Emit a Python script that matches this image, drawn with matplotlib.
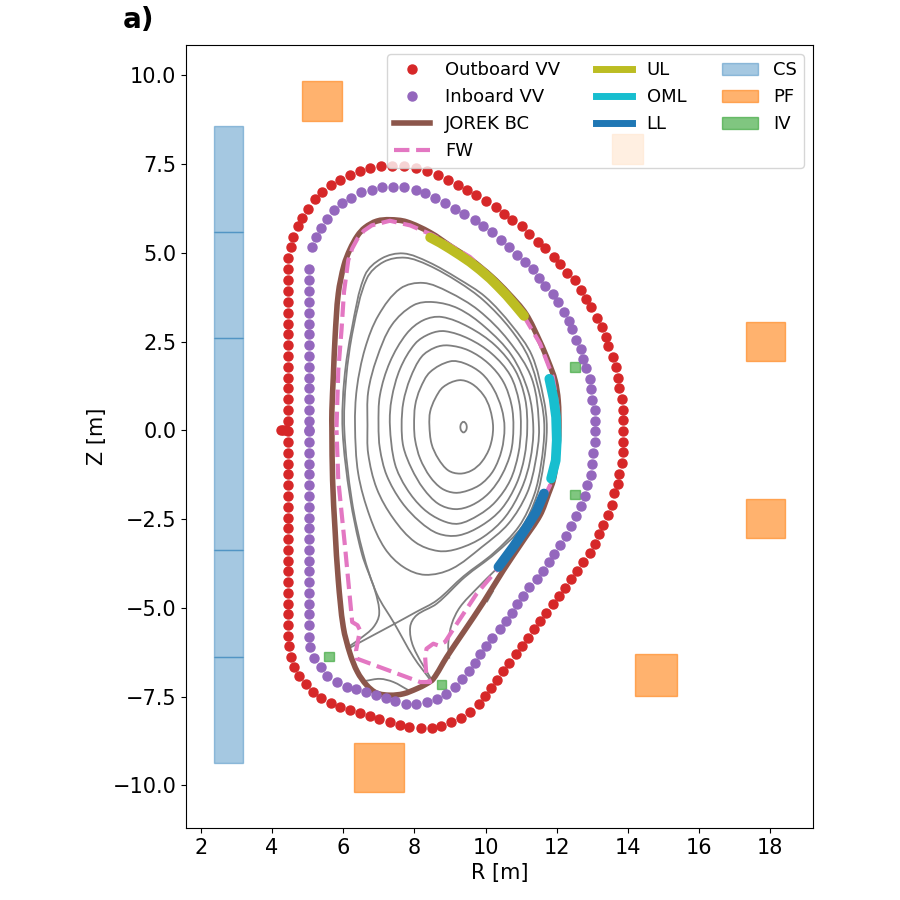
import matplotlib
matplotlib.use('Agg')
import matplotlib.pyplot as plt
import numpy as np
from matplotlib.patches import PathPatch, Rectangle
from matplotlib.path import Path

plt.rcParams['font.size'] = 15

# vessel points [m]
outboard_r = [4.45, 4.45, 4.45, 4.45, 4.45, 4.45, 4.45, 4.45, 4.45, 4.45, 4.45, 4.45, 4.45, 4.45, 4.45, 4.45,
              4.52, 4.60, 4.72, 4.85, 5.02, 5.21, 5.41, 5.66, 5.92, 6.20, 6.48, 6.76, 7.07, 7.38, 7.72, 8.03,
              8.36, 8.67, 8.95, 9.21, 9.49, 9.74, 10.02, 10.28, 10.53, 10.75, 11.01, 11.23, 11.46, 11.68, 11.91,
              12.10, 12.30, 12.50, 12.67, 12.81, 12.97, 13.12, 13.26, 13.37, 13.45, 13.57, 13.65, 13.71, 13.76,
              13.82, 13.85, 13.87, 13.87, 13.87, 13.85, 13.82, 13.76, 13.71, 13.62, 13.54, 13.45, 13.31, 13.20,
              13.06, 12.92, 12.75, 12.58, 12.41, 12.24, 12.05, 11.88, 11.71, 11.54, 11.37, 11.20, 11.01, 10.84,
              10.67, 10.50, 10.33, 10.16, 9.99, 9.80, 9.57, 9.32, 9.04, 8.76, 8.48, 8.17, 7.86, 7.58, 7.30, 7.01,
              6.76, 6.48, 6.20, 5.92, 5.66, 5.38, 5.16, 4.96, 4.76, 4.62, 4.54, 4.48, 4.45, 4.45, 4.45, 4.45, 4.45,
              4.45, 4.45, 4.45, 4.45, 4.45, 4.45, 4.45, 4.45, 4.45, 4.45, 4.45, 4.45, 4.45, 4.45, 4.45, 4.25, 4.30,
              4.38]
outboard_z = [0.26, 0.58, 0.89, 1.20, 1.47, 1.78, 2.09, 2.41, 2.72, 3.00, 3.30, 3.61, 3.92, 4.23, 4.53, 4.84,
              5.15, 5.43, 5.74, 5.99, 6.24, 6.50, 6.72, 6.90, 7.06, 7.20, 7.31, 7.40, 7.45, 7.45, 7.45, 7.40,
              7.31, 7.20, 7.06, 6.92, 6.78, 6.62, 6.47, 6.30, 6.10, 5.93, 5.74, 5.54, 5.31, 5.12, 4.89,
              4.67, 4.44, 4.22, 3.96, 3.71, 3.46, 3.17, 2.92, 2.64, 2.36, 2.07, 1.77, 1.48, 1.20,
              0.89, 0.58, 0.30, -0.03, -0.32, -0.60, -0.91, -1.22, -1.50, -1.78, -2.09, -2.38, -2.66, -2.91,
              -3.19, -3.45, -3.70, -3.95, -4.18, -4.43, -4.66, -4.88, -5.14, -5.36, -5.59, -5.84, -6.07, -6.29,
              -6.54, -6.77, -7.02, -7.25, -7.47, -7.70, -7.92, -8.09, -8.21, -8.32, -8.38, -8.38, -8.35, -8.29, -8.21, -8.12,
              -8.04, -7.95, -7.87, -7.78, -7.67, -7.53, -7.36, -7.14, -6.91, -6.66, -6.38, -6.07, -5.78, -5.47, -5.16, -4.88, -4.57,
              -4.26, -3.95, -3.67, -3.36, -3.05, -2.74, -2.46, -2.15, -1.84, -1.53, -1.22, -0.94, -0.63, -0.32, -0.03, 0.0, 0.0,
              0.0]

inboard_r = [5.05, 5.05, 5.05, 5.05, 5.05, 5.05, 5.05, 5.05, 5.05, 5.05, 5.05, 5.05, 5.05, 5.05, 5.05, 5.05,
             5.13, 5.24, 5.36, 5.55, 5.75, 5.97, 6.23, 6.51, 6.82, 7.10, 7.41, 7.72, 8.03, 8.31, 8.59, 8.87,
             9.15, 9.40, 9.69, 9.94, 10.19, 10.42, 10.67, 10.89, 11.12, 11.32, 11.51, 11.68, 11.88, 12.02, 12.19,
             12.33, 12.44, 12.55, 12.67, 12.75, 12.83, 12.92, 12.97, 13.00, 13.06, 13.06, 13.06,
             13.06, 13.03, 13.00, 12.95, 12.86, 12.78, 12.67, 12.55, 12.41, 12.27, 12.10, 11.93, 11.77, 11.60,
             11.43, 11.23, 11.06, 10.89, 10.73, 10.56, 10.39, 10.19, 10.02, 9.85, 9.69, 9.52, 9.35, 9.15, 8.90,
             8.64, 8.36, 8.05, 7.77, 7.46, 7.21, 6.93, 6.65, 6.37, 6.11, 5.81, 5.55, 5.36, 5.19, 5.07, 5.05,
             5.05, 5.05, 5.05, 5.05, 5.05, 5.05, 5.05, 5.05, 5.05, 5.05, 5.05, 5.05, 5.05, 5.05, 5.05, 5.05, 5.05, 5.05, 5.05]
inboard_z = [0.02, 0.27, 0.58, 0.89, 1.20, 1.48, 1.78, 2.09, 2.41, 2.72, 3.00, 3.31, 3.62, 3.93, 4.22, 4.53,
             5.15, 5.43, 5.71, 5.96, 6.19, 6.39, 6.55, 6.70, 6.78, 6.84, 6.86, 6.84, 6.78, 6.67, 6.53, 6.41,
             6.24, 6.10, 5.93, 5.74, 5.57, 5.37, 5.17, 4.95, 4.75, 4.53, 4.30, 4.07, 3.85, 3.60, 3.34,
             3.09, 2.84, 2.55, 2.30, 2.02, 1.74, 1.45, 1.15, 0.86, 0.58, 0.27, -0.01,
             -0.32, -0.63, -0.94, -1.25, -1.53, -1.84, -2.12, -2.40, -2.69, -2.97, -3.22, -3.47, -3.70, -3.95,
             -4.18, -4.40, -4.66, -4.88, -5.14, -5.36, -5.59, -5.84, -6.07, -6.29, -6.54, -6.77, -7.00, -7.22, -7.42,
             -7.56, -7.64, -7.70, -7.70, -7.62, -7.53, -7.45, -7.36, -7.28, -7.22, -7.08, -6.91, -6.66, -6.40, -6.09, -5.81,
             -5.47, -5.16, -4.88, -4.57, -4.26, -3.95, -3.67, -3.36, -3.05, -2.74, -2.46, -2.15, -1.84, -1.53, -1.22, -0.94, -0.63, -0.32, -0.03]

# JOREK boundary
jorek_r = [5.68, 5.68, 5.72, 5.77, 5.86, 6.02, 6.19, 6.40, 6.61, 6.94, 7.31, 7.78, 8.44, 9.04, 9.60, 10.17, 10.64, 11.13,
           11.53, 11.77, 11.95, 12.04, 12.06, 12.04, 11.98, 11.90, 11.77, 11.53, 11.06, 10.50, 9.94, 9.38, 8.91, 8.53,
           8.34, 8.06, 7.69, 7.31, 6.94, 6.66, 6.40, 6.19, 6.00, 5.86, 5.77, 5.70]
jorek_z = [0.02, 0.56, 1.50, 2.63, 3.85, 4.65, 5.10, 5.48, 5.71, 5.89, 5.93, 5.87, 5.57, 5.17, 4.80, 4.33, 3.86, 3.28,
           2.49, 1.92, 1.41, 0.84, 0.09, -0.40, -0.94, -1.41, -1.78, -2.39, -3.10, -3.94, -4.84, -5.68, -6.38, -7.00,
           -7.14, -7.28, -7.42, -7.46, -7.40, -7.18, -6.81, -6.29, -5.54, -4.23, -2.82, -1.41]

# first wall
fw_r = [5.81, 5.86, 5.95, 6.02, 6.14, 6.25, 6.40, 6.58, 6.80, 7.31, 7.88, 8.53, 9.56, 10.31, 11.06, 11.53, 11.89, 12.02, 12.05,
        11.91, 11.81, 11.25, 10.31, 9.75, 9.19, 8.86, 8.67, 8.53, 8.34, 8.30, 8.33, 8.44, 8.16, 6.38, 6.36, 6.47,
        6.40, 6.25, 6.05, 5.86, 5.81]
fw_z = [0.09, 1.69, 2.82, 3.90, 4.79, 5.12, 5.40, 5.62, 5.77, 5.90, 5.77, 5.49, 4.88, 4.18, 3.24, 2.44, 1.50, 0.66, -0.28,
        -1.13, -1.55, -2.72, -3.94, -4.60, -5.45, -5.96, -6.06, -6.01, -6.15, -6.38, -6.85, -7.09, -7.09, -6.43, -6.20, -5.63,
        -5.49, -5.40, -3.29, -1.41, 0.0]

# limiters
ul_r = [8.44, 8.72, 9.00, 9.28, 9.56, 9.84, 10.13, 10.36, 10.59, 10.83, 11.08]
ul_z = [5.43, 5.28, 5.11, 4.93, 4.74, 4.52, 4.27, 4.04, 3.80, 3.52, 3.22]
oml_r = [11.79, 11.91, 11.98, 12.00, 11.97, 11.84]
oml_z = [1.45, 0.89, 0.37, -0.28, -0.85, -1.36]
ll_r = [11.64, 11.42, 11.12, 10.78, 10.36]
ll_z = [-1.78, -2.30, -2.78, -3.28, -3.85]

# coils: r_min, r_max, z_min, z_max
cs_r = [2.37, 3.18]
cs_z = [8.56, 5.58, 2.59, -3.38, -6.39, -9.38]
pf_r0 = [4.84, 13.56, 17.33, 17.33, 14.20, 6.30]
pf_r1 = [5.97, 14.43, 18.42, 18.42, 15.39, 7.71]
pf_z0 = [8.70, 7.49, 1.94, -3.04, -7.49, -10.20]
pf_z1 = [9.83, 8.34, 3.04, -1.94, -6.31, -8.82]
iv_r0 = [12.37, 12.37, 5.47, 8.63]
iv_r1 = [12.66, 12.66, 5.73, 8.88]
iv_z0 = [1.64, -1.94, -6.50, -7.29]
iv_z1 = [1.91, -1.69, -6.23, -7.02]

# closed flux surfaces
flux_closed = [
    ([9.38, 9.45, 9.47, 9.45, 9.38, 9.31, 9.29, 9.31],
     [0.24, 0.18, 0.09, 0.00, -0.06, 0.00, 0.09, 0.18]),
    ([8.42, 8.44, 8.58, 8.81, 9.25, 9.61, 9.94, 10.12, 10.21, 10.12, 9.89, 9.61, 9.28, 8.95, 8.67, 8.48],
     [0.14, 0.52, 0.89, 1.22, 1.41, 1.31, 0.99, 0.61, 0.07, -0.47, -0.89, -1.13, -1.22, -1.13, -0.80, -0.38]),
    ([7.99, 8.02, 8.16, 8.44, 9.00, 9.42, 9.89, 10.22, 10.45, 10.53, 10.45, 10.22, 9.89, 9.52, 9.14, 8.77, 8.44, 8.16, 8.02],
     [0.14, 0.70, 1.17, 1.64, 1.94, 1.88, 1.60, 1.17, 0.61, 0.07, -0.56, -1.13, -1.50, -1.69, -1.76, -1.64, -1.31, -0.80, -0.28]),
    ([7.64, 7.69, 7.88, 8.20, 8.58, 8.95, 9.52, 10.08, 10.50, 10.73, 10.78, 10.71, 10.45, 10.08, 9.61, 9.14, 8.67, 8.25, 7.92, 7.69],
     [0.14, 0.80, 1.46, 2.07, 2.33, 2.39, 2.25, 1.88, 1.36, 0.70, 0.07, -0.61, -1.27, -1.78, -2.11, -2.22, -2.07, -1.64, -1.08, -0.47]),
    ([7.31, 7.36, 7.60, 8.02, 8.44, 8.86, 9.52, 10.17, 10.69, 10.94, 10.99, 10.92, 10.69, 10.27, 9.80, 9.24, 8.77, 8.25, 7.78, 7.45],
     [0.14, 0.89, 1.74, 2.44, 2.72, 2.79, 2.58, 2.16, 1.55, 0.80, 0.07, -0.66, -1.41, -2.02, -2.39, -2.63, -2.54, -2.21, -1.64, -0.94]),
    ([6.99, 7.03, 7.31, 7.78, 8.25, 8.77, 9.52, 10.27, 10.83, 11.11, 11.17, 11.09, 10.87, 10.45, 9.89, 9.24, 8.67, 8.16, 7.64, 7.22, 7.03],
     [0.14, 0.99, 1.92, 2.72, 3.10, 3.19, 2.91, 2.39, 1.69, 0.89, 0.07, -0.75, -1.50, -2.21, -2.68, -2.96, -2.91, -2.58, -2.02, -1.27, -0.52]),
    ([6.68, 6.70, 6.94, 7.36, 7.97, 8.53, 9.23, 9.98, 10.73, 11.20, 11.34, 11.25, 11.01, 10.55, 9.94, 9.24, 8.67, 8.02, 7.41, 6.94, 6.70],
     [0.14, 1.08, 2.02, 2.96, 3.52, 3.61, 3.43, 2.91, 2.11, 1.08, 0.07, -0.85, -1.64, -2.44, -3.00, -3.33, -3.40, -3.15, -2.49, -1.64, -0.66]),
    ([6.33, 6.38, 6.61, 6.99, 7.60, 8.25, 8.95, 9.80, 10.64, 11.30, 11.50, 11.39, 11.16, 10.64, 9.89, 9.05, 8.30, 7.69, 7.17, 6.75, 6.42],
     [0.14, 1.17, 2.30, 3.24, 3.99, 4.15, 3.90, 3.38, 2.53, 1.45, 0.07, -0.94, -1.78, -2.63, -3.29, -3.90, -4.07, -3.85, -3.33, -2.44, -1.22]),
]

# separatrix and open field lines
flux_open = [
    ([8.49, 7.97, 7.44, 6.94, 6.56, 6.24, 6.03, 6.08, 6.28, 6.66, 7.13, 7.74, 8.39, 9.23, 9.94, 10.69, 11.22,
      11.56, 11.65, 11.56, 11.36, 10.94, 10.22, 9.38, 8.63, 8.04, 7.44, 6.75, 6.14],
     [-7.09, -6.38, -5.45, -4.60, -3.47, -1.97, 0.0, 1.45, 2.86, 4.27, 4.74, 4.86, 4.65, 4.18, 3.66, 2.86, 2.02,
      0.84, 0.07, -0.94, -1.83, -2.70, -3.46, -4.11, -4.79, -5.12, -5.45, -5.82, -6.15]),
    ([6.14, 6.47, 6.85, 7.01, 6.89, 6.52, 6.19, 5.98, 6.03, 6.24, 6.61, 7.08, 7.69, 8.39, 9.23, 9.99, 10.73, 11.30,
      11.63, 11.72, 11.63, 11.44, 11.02, 10.27, 9.42, 8.63, 8.06, 7.88, 7.97, 8.49],
     [-6.10, -5.87, -5.54, -5.16, -4.51, -3.47, -1.88, 0.0, 1.45, 2.86, 4.37, 4.84, 4.98, 4.74, 4.27, 3.76, 2.96, 2.11,
      0.89, 0.07, -0.94, -1.83, -2.72, -3.47, -4.13, -4.88, -5.21, -5.54, -6.10, -7.04]),
    ([8.98, 8.95, 9.05, 9.28, 9.75, 10.31], [-6.43, -6.01, -5.45, -4.98, -4.46, -3.90]),
    ([5.69, 5.74, 5.81], [-1.64, -2.72, -3.90]),
    ([10.03, 10.22], [-4.84, -4.51]),
    ([6.61, 7.03, 7.41, 7.83], [-7.06, -7.00, -7.09, -7.32]),
]


def smooth_path(r, z, closed=False):
    # bezier segments through the read points, tangent length follows the chord
    pts = np.column_stack([r, z])
    if closed:
        pts = np.vstack([pts[-1], pts, pts[:2]])
    else:
        pts = np.vstack([pts[0], pts, pts[-1]])
    tang = np.zeros_like(pts)
    tang[1:-1] = pts[2:] - pts[:-2]
    norm = np.linalg.norm(tang, axis=1, keepdims=True)
    tang = tang / np.where(norm == 0, 1, norm)
    verts = [pts[1]]
    codes = [Path.MOVETO]
    for i in range(1, len(pts) - 2):
        chord = np.linalg.norm(pts[i + 1] - pts[i])
        verts += [pts[i] + tang[i] * chord / 3, pts[i + 1] - tang[i + 1] * chord / 3, pts[i + 1]]
        codes += [Path.CURVE4] * 3
    return Path(verts, codes)


fig = plt.figure(figsize=(9, 9), dpi=100)
ax = fig.add_axes([186 / 900, 72 / 900, 627 / 900, 783 / 900])

for r, z in flux_closed:
    ax.add_patch(PathPatch(smooth_path(r, z, closed=True), fill=False, edgecolor='tab:gray', lw=1.3))
for r, z in flux_open:
    ax.add_patch(PathPatch(smooth_path(r, z), fill=False, edgecolor='tab:gray', lw=1.3))

ax.plot(outboard_r, outboard_z, 'o', color='tab:red', ms=6.5, label='Outboard VV')
ax.plot(inboard_r, inboard_z, 'o', color='tab:purple', ms=6.5, label='Inboard VV')
ax.add_patch(PathPatch(smooth_path(jorek_r, jorek_z, closed=True), fill=False, edgecolor='tab:brown', lw=4, zorder=1.5))
ax.plot([], [], color='tab:brown', lw=4, label='JOREK BC')
ax.plot(fw_r, fw_z, color='tab:pink', lw=3, ls='--', label='FW')
ax.plot(ul_r, ul_z, color='tab:olive', lw=7, solid_capstyle='round', label='UL')
ax.plot(oml_r, oml_z, color='tab:cyan', lw=7, solid_capstyle='round', label='OML')
ax.plot(ll_r, ll_z, color='tab:blue', lw=7, solid_capstyle='round', label='LL')

for i in range(len(cs_z) - 1):
    ax.add_patch(Rectangle((cs_r[0], cs_z[i + 1]), cs_r[1] - cs_r[0], cs_z[i] - cs_z[i + 1],
                           color='tab:blue', alpha=0.4, label='CS' if i == 0 else None))
for i in range(len(pf_r0)):
    ax.add_patch(Rectangle((pf_r0[i], pf_z0[i]), pf_r1[i] - pf_r0[i], pf_z1[i] - pf_z0[i],
                           color='tab:orange', alpha=0.6, label='PF' if i == 0 else None))
for i in range(len(iv_r0)):
    ax.add_patch(Rectangle((iv_r0[i], iv_z0[i]), iv_r1[i] - iv_r0[i], iv_z1[i] - iv_z0[i],
                           color='tab:green', alpha=0.6, label='IV' if i == 0 else None))

ax.set_xlim(1.58, 19.2)
ax.set_ylim(-11.2, 10.85)
ax.set_xticks(range(2, 19, 2))
ax.set_yticks([-10, -7.5, -5, -2.5, 0, 2.5, 5, 7.5, 10])
ax.set_xlabel('R [m]')
ax.set_ylabel('Z [m]')
leg = ax.legend(loc='upper right', ncol=3, fontsize=13)
for line in leg.get_lines()[4:7]:
    line.set_linewidth(5)
    line.set_solid_capstyle('projecting')
fig.text(123 / 900, 1 - 28 / 900, 'a)', fontsize=20, fontweight='bold')

fig.savefig('out.png', dpi=100)
